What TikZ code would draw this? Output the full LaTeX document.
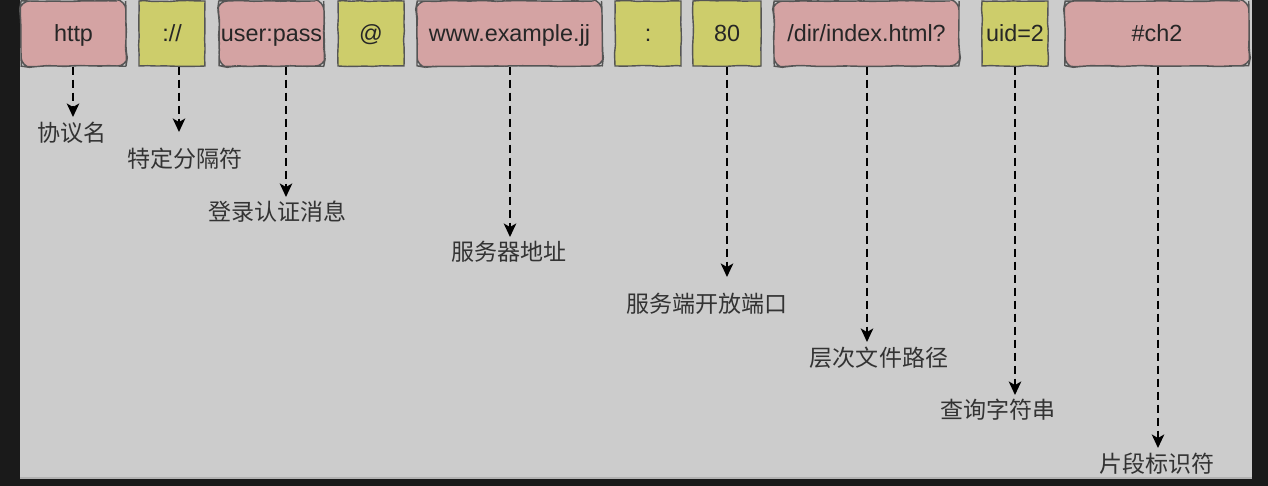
\documentclass[tikz,border=0pt]{standalone}
\usepackage{fontspec}
\setmainfont{Liberation Sans}
\newfontfamily\cjk{Noto Sans CJK SC}
\usetikzlibrary{arrows.meta, decorations.pathmorphing}

\definecolor{fundo}{HTML}{CCCCCC}
\definecolor{moldura}{HTML}{1A1A1A}
\definecolor{rosa}{HTML}{D4A3A3}
\definecolor{amarelo}{HTML}{CDCD6B}
\definecolor{contorno}{HTML}{555555}

\begin{document}
\begin{tikzpicture}[x=0.02cm, y=-0.02cm,
    % Estilos das caixas (traco de "esboco") e das setas
    caixa/.style={rectangle, draw=contorno, line width=0.8pt, minimum height=1.3cm, inner sep=0pt, text height=1.15em, text depth=0.2em, align=center, font=\fontsize{13.3}{16}\selectfont, text=black!85, decorate, decoration={random steps, segment length=5pt, amplitude=0.3pt}},
    parteBox/.style={caixa, fill=rosa, rounded corners=5pt},
    sepBox/.style={caixa, fill=amarelo},
    rotulo/.style={inner sep=0pt, font=\cjk\fontsize{13.1}{16}\selectfont, text=black!80},
    seta/.style={draw=black, line width=1.1pt, dash pattern=on 0.16cm off 0.1cm, -{Stealth[length=0.27cm, width=0.25cm, inset=0.07cm]}}
]

% ==========================
% MOLDURA E FUNDO
% ==========================
\useasboundingbox (0,0) rectangle (1268,486);
\fill[moldura] (0,0) rectangle (1268,486);
\fill[fundo] (20,0) rectangle (1252,478);
\draw[black!30, line width=0.6pt] (20,478) -- (1252,478);

% ==========================
% PARTES DA URL
% ==========================
\def\Ybox{33.5}
\node[parteBox, minimum width=2.1cm]  (http)  at (73.5, \Ybox) {http};
\node[sepBox,   minimum width=1.32cm] (sepA)  at (172, \Ybox)  {://};
\node[parteBox, minimum width=2.1cm]  (user)  at (271.5, \Ybox) {user:pass};
\node[sepBox,   minimum width=1.32cm] (sepB)  at (371, \Ybox)  {@};
\node[parteBox, minimum width=3.7cm]  (host)  at (509.5, \Ybox) {www.example.jj};
\node[sepBox,   minimum width=1.32cm] (sepC)  at (648, \Ybox)  {:};
\node[sepBox,   minimum width=1.36cm] (porta) at (727, \Ybox)  {80};
\node[parteBox, minimum width=3.7cm]  (path)  at (866.5, \Ybox) {/dir/index.html?};
\node[sepBox,   minimum width=1.32cm] (query) at (1015, \Ybox) {uid=2};
\node[parteBox, minimum width=3.68cm] (frag)  at (1157, \Ybox) {\#ch2};

% ==========================
% ROTULOS
% ==========================
\node[rotulo] (n1) at (72, 133)  {协议名};
\node[rotulo] (n2) at (185, 159) {特定分隔符};
\node[rotulo] (n3) at (277.5, 212) {登录认证消息};
\node[rotulo] (n4) at (509, 252) {服务器地址};
\node[rotulo] (n5) at (707, 304) {服务端开放端口};
\node[rotulo] (n6) at (879, 358) {层次文件路径};
\node[rotulo] (n7) at (998, 410) {查询字符串};
\node[rotulo] (n8) at (1157, 464) {片段标识符};

% pontas das setas
\coordinate (p1) at (73, 117);
\coordinate (p2) at (179, 132);
\coordinate (p3) at (286, 197);
\coordinate (p4) at (510, 237);
\coordinate (p5) at (727, 277);
\coordinate (p6) at (867, 342);
\coordinate (p7) at (1015, 395);
\coordinate (p8) at (1158, 448);

% ==========================
% SETAS TRACEJADAS
% ==========================
\foreach \cx/\i in {http/1, sepA/2, user/3, host/4, porta/5, path/6, query/7, frag/8} {
    \draw[seta] (p\i |- \cx.south) -- (p\i);
}

\end{tikzpicture}
\end{document}
